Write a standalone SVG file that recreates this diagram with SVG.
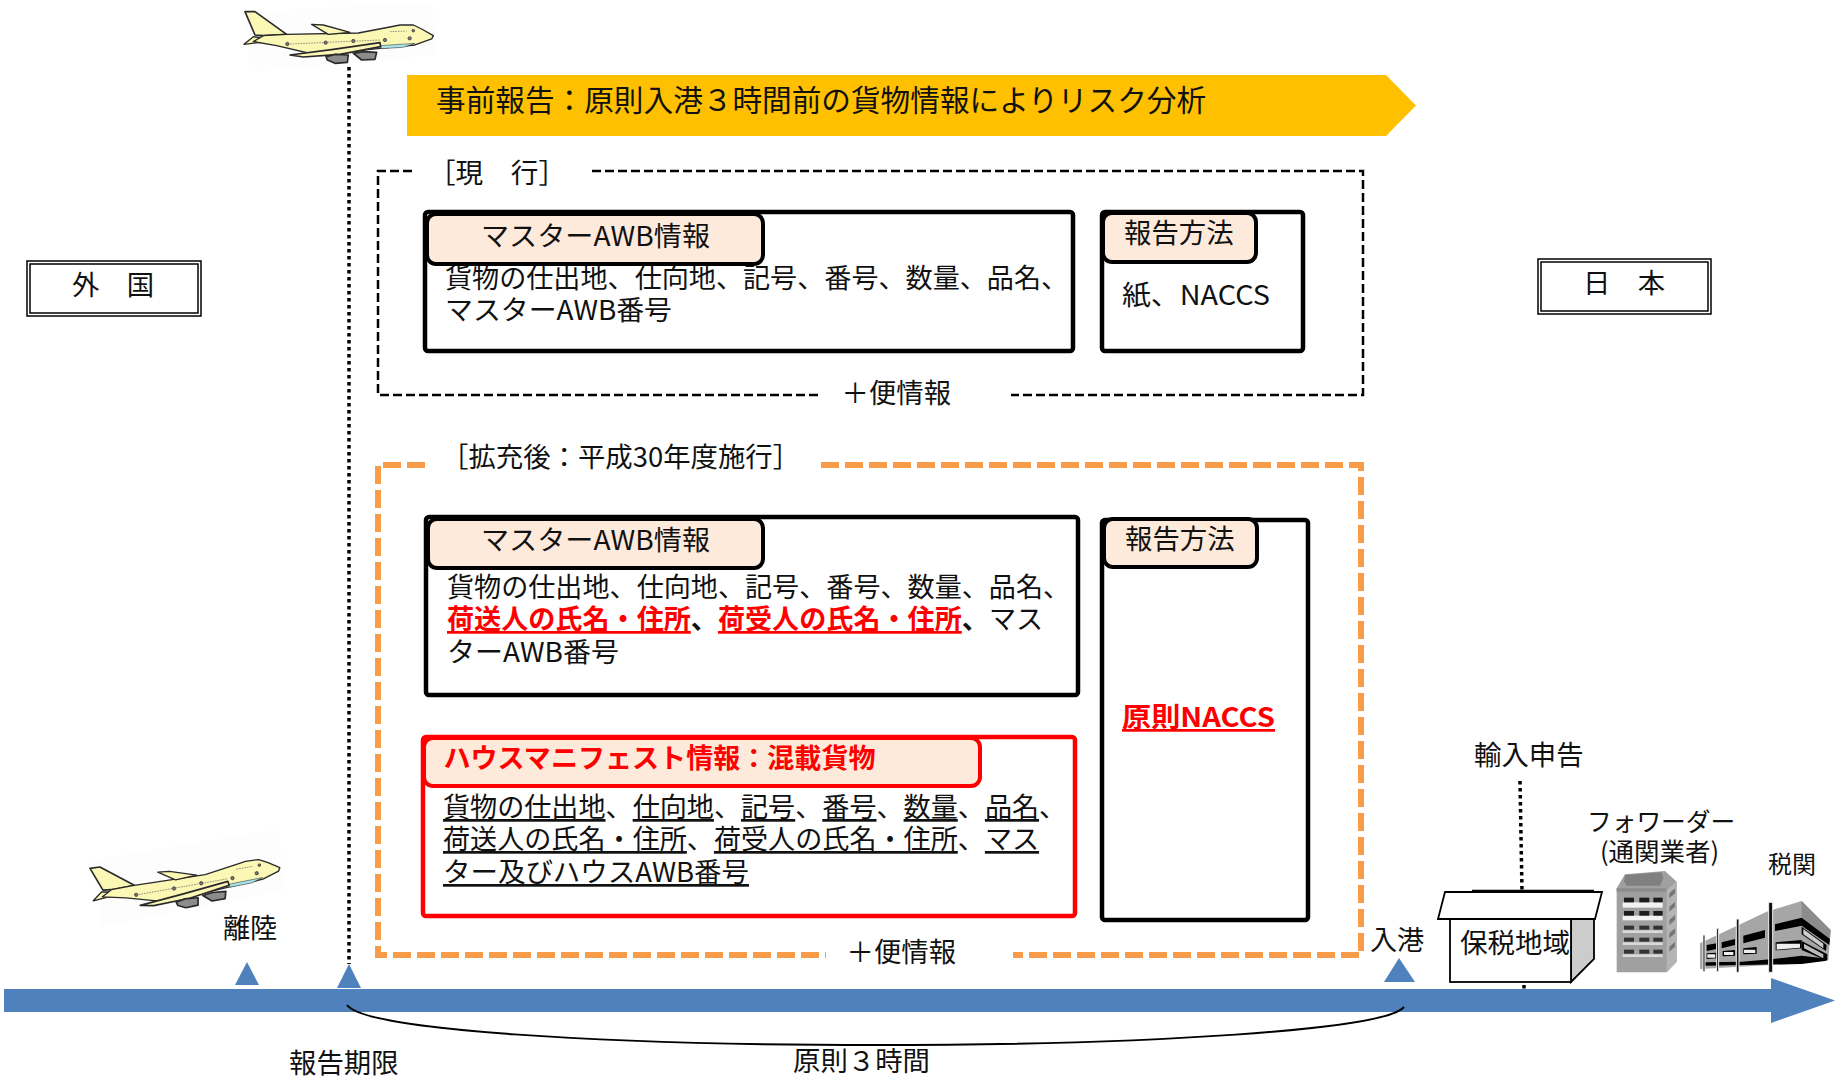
<svg xmlns="http://www.w3.org/2000/svg" width="1835" height="1081" viewBox="0 0 1835 1081">
<style>
text{font-family:"Noto Sans CJK JP","Noto Sans",sans-serif;fill:#111;font-size:27.1px}
.l{font-size:27.4px}
.red{fill:#f00;font-weight:700}
.u{text-decoration:underline}
.box{fill:#fff;stroke:#000;stroke-width:4.5}
.tab{fill:#fdeada;stroke:#000;stroke-width:4}
.rb{stroke:#f00}
.dash{fill:none;stroke:#000;stroke-width:2.5;stroke-dasharray:9 4}
.org{fill:none;stroke:#f89c4a;stroke-width:6;stroke-dasharray:18 6}
.tri{fill:#4f81bd}
.dot{fill:none;stroke:#000;stroke-width:3.5;stroke-dasharray:3.5 3.5}
.dbl{fill:#fff;stroke:#000;stroke-width:1.5}
.y{fill:#fbf7b4}
.bg{fill:#fdfdfd}
.e{fill:#8c8c8c;stroke-width:5}
.p{fill:#111;stroke:#eee;stroke-width:3}
</style>
<defs>
<g id="plane" stroke="#2a2a2a" stroke-linejoin="round">
<path class="y" d="M15 20L45 20L140 88L70 92L45 90Z" stroke-width="5"/>
<path class="y" d="M12 118L115 105L40 95Z" stroke-width="4"/>
<path class="y" d="M580 92L545 72L520 60L480 60L450 66L355 84L140 88L70 92L40 110L110 122L230 150L420 130L525 120L575 102Z" stroke-width="4"/>
<path class="y" d="M215 58L250 60L330 82L265 88Z" stroke-width="4"/>
<path d="M420 122L525 115L490 127L425 131Z" fill="#a9e3ea" stroke-width="1.500"/>
<path class="y" d="M150 150L280 133L420 113L422 125L300 148L190 156Z" stroke-width="5"/>
<path class="e" d="M258 155L285 148L325 150L322 172L285 175L262 165Z"/>
<path class="e" d="M340 145L370 140L410 142L405 163L365 165Z"/>
<g fill="#777" stroke-width="2"><circle cx="142" cy="117" r="5"/><circle cx="257" cy="113" r="5"/><circle cx="340" cy="108" r="5"/><circle cx="435" cy="105" r="5"/><circle cx="509" cy="100" r="5"/><circle cx="520" cy="77" r="4"/></g>
<path d="M150 117L420 105M450 80L500 78" fill="none" stroke="#666" stroke-width="2" stroke-dasharray="5 3"/>
</g>
</defs>

<g id="timeline">
<path fill="#4f81bd" d="M4 989H1771V978L1835 1000.500L1771 1023V1012H4Z"/>
</g>
<g id="connectors">
<path class="dot" d="M349 67V964"/>
<path class="dot" d="M1520 781L1522 892"/>
<path class="dot" d="M1524 985V989"/>
<path d="M347 1005C365 1030 600 1045 875 1045C1150 1045 1385 1030 1404 1007" fill="none" stroke="#000" stroke-width="2"/>
</g>
<g id="tri-ririku"><path class="tri" d="M247 962L259 985H235Z"/></g>
<g id="tri-kigen"><path class="tri" d="M349 964L361 988H337Z"/></g>
<g id="tri-nyuko"><path class="tri" d="M1399 958L1415 982H1384Z"/></g>

<g id="plane-top"><path class="bg" d="M245 12L432 2L436 55L250 72Z"/><g transform="translate(240 5) scale(.3333)"><use href="#plane"/></g></g>
<g id="plane-bottom"><path class="bg" d="M92 860L278 829L285 890L100 927Z"/><g transform="translate(63.7 860) rotate(-7.500) scale(.3333) translate(60 15)"><use href="#plane"/></g></g>

<g id="banner">
<path fill="#ffc000" d="M407 75H1386L1416 105.500L1386 136H407Z"/>
<text x="436" y="111" style="font-size:29.650px">事前報告：原則入港３時間前の貨物情報によりリスク分析</text>
</g>

<g id="foreign">
<rect class="dbl" x="27" y="261" width="174" height="55"/><rect class="dbl" x="30" y="264" width="168" height="49"/>
<text class="l" x="72" y="295">外　国</text>
</g>
<g id="japan">
<rect class="dbl" x="1538" y="259" width="173" height="55"/><rect class="dbl" x="1541" y="262" width="167" height="49"/>
<text class="l" x="1583" y="293">日　本</text>
</g>

<g id="current-frame">
<path class="dash" d="M412 171H378V395H822"/>
<path class="dash" d="M592 171H1363V395H1011"/>
<text x="428" y="183" style="font-size:27.600px">［現　行］</text>
<text class="l" x="841.500" y="403">＋便情報</text>
</g>

<g id="current-master">
<rect class="box" x="425" y="212" width="648" height="139" rx="3"/>
<text x="445" y="288">貨物の仕出地、仕向地、記号、番号、数量、品名、</text>
<text x="445" y="320" textLength="227" lengthAdjust="spacingAndGlyphs">マスターAWB番号</text>
<rect class="tab" x="427" y="214" width="336" height="50" rx="9"/>
<text x="481" y="246" textLength="229" lengthAdjust="spacingAndGlyphs">マスターAWB情報</text>
</g>
<g id="current-method">
<rect class="box" x="1102" y="212" width="201" height="139" rx="3"/>
<rect class="tab" x="1103" y="213" width="153" height="49" rx="9"/>
<text class="l" x="1124" y="243">報告方法</text>
<text x="1122" y="305" textLength="148" lengthAdjust="spacingAndGlyphs">紙、NACCS</text>
</g>

<g id="new-frame">
<path class="org" d="M425 465H378V955H826"/>
<path class="org" d="M821 465H1361V955H1013"/>
<text class="l" x="441" y="467">［拡充後：平成30年度施行］</text>
<text class="l" x="846.500" y="962">＋便情報</text>
</g>

<g id="new-master">
<rect class="box" x="426" y="517" width="652" height="178" rx="3"/>
<rect class="tab" x="428" y="519" width="335" height="49" rx="9"/>
<text x="481" y="550" textLength="229" lengthAdjust="spacingAndGlyphs">マスターAWB情報</text>
<text x="447" y="597">貨物の仕出地、仕向地、記号、番号、数量、品名、</text>
<text x="447" y="629"><tspan class="red u">荷送人の氏名・住所</tspan><tspan style="font-weight:700">、</tspan><tspan class="red u">荷受人の氏名・住所</tspan><tspan style="font-weight:700">、</tspan>マス</text>
<text x="447" y="662" textLength="172" lengthAdjust="spacingAndGlyphs">ターAWB番号</text>
</g>

<g id="house-manifest">
<rect class="box rb" x="423" y="737" width="652" height="179" rx="3"/>
<rect class="tab rb" x="424" y="738" width="556" height="48" rx="9"/>
<text class="red" x="443.500" y="768" textLength="432" lengthAdjust="spacingAndGlyphs">ハウスマニフェスト情報：混載貨物</text>
<text x="443" y="817"><tspan class="u">貨物の仕出地</tspan>、<tspan class="u">仕向地</tspan>、<tspan class="u">記号</tspan>、<tspan class="u">番号</tspan>、<tspan class="u">数量</tspan>、<tspan class="u">品名</tspan>、</text>
<text x="443" y="849"><tspan class="u">荷送人の氏名・住所</tspan>、<tspan class="u">荷受人の氏名・住所</tspan>、<tspan class="u">マス</tspan></text>
<text class="u" x="443" y="882" textLength="306" lengthAdjust="spacingAndGlyphs">ター及びハウスAWB番号</text>
</g>

<g id="new-method">
<rect class="box" x="1102" y="520" width="206" height="400" rx="3"/>
<rect class="tab" x="1104" y="519" width="153" height="48" rx="9"/>
<text class="l" x="1125" y="549">報告方法</text>
<text class="red u" x="1122" y="727" textLength="153" lengthAdjust="spacingAndGlyphs">原則NACCS</text>
</g>

<g id="labels">
<text x="223" y="938">離陸</text>
<text class="l" x="289" y="1073">報告期限</text>
<text class="l" x="793" y="1071">原則３時間</text>
<text x="1370" y="950">入港</text>
<text class="l" x="1474" y="765">輸入申告</text>
<text x="1587" y="831" style="font-size:24.700px">フォワーダー</text>
<text x="1600" y="861" style="font-size:25.500px">(通関業者)</text>
<text x="1768" y="873" style="font-size:24px">税関</text>
</g>

<g id="bonded-area">
<path d="M1472 890.500H1594" stroke="#000" stroke-width="1.500" fill="none"/>
<path d="M1571 919H1594V959L1571 982Z" fill="#ccc" stroke="#000" stroke-width="1.800"/>
<rect x="1450" y="919" width="121" height="63" fill="#fff" stroke="#000" stroke-width="1.800"/>
<path d="M1445 892H1602L1595 919H1438Z" fill="#fff" stroke="#000" stroke-width="1.800"/>
<text x="1460" y="953" style="font-size:27.500px">保税地域</text>
</g>

<g id="forwarder" transform="translate(1610 865) scale(.3333)">
<path d="M20 70L45 28L165 18L200 50V290L170 322H20Z" fill="#a0a0a0"/>
<path d="M170 75L200 50V290L170 322Z" fill="#b4b4b4"/>
<path d="M45 30L155 22L160 40L150 62H50L42 50Z" fill="#808080"/>
<path d="M20 70H170V80H20Z" fill="#8c8c8c"/>
<g fill="#f2f2f2"><rect x="38" y="112" width="120" height="16"/><rect x="38" y="152" width="120" height="14"/><rect x="38" y="196" width="120" height="8" opacity=".7"/><rect x="38" y="232" width="120" height="8" opacity=".7"/><rect x="38" y="268" width="120" height="8" opacity=".7"/></g>
<g fill="#1c1c1c"><rect x="42" y="98" width="30" height="14"/><rect x="88" y="98" width="30" height="14"/><rect x="130" y="98" width="28" height="14"/><rect x="42" y="138" width="30" height="14"/><rect x="88" y="138" width="30" height="14"/><rect x="130" y="138" width="28" height="14"/></g>
<g fill="#333"><rect x="42" y="182" width="30" height="12"/><rect x="88" y="182" width="30" height="12"/><rect x="130" y="182" width="28" height="12"/><rect x="42" y="218" width="30" height="12"/><rect x="88" y="218" width="30" height="12"/><rect x="130" y="218" width="28" height="12"/><rect x="42" y="254" width="30" height="12"/><rect x="88" y="254" width="30" height="12"/><rect x="130" y="254" width="28" height="12"/></g>
<path d="M178 85L195 70V85L178 100ZM178 125L195 110V125L178 140ZM178 165L195 150V165L178 180ZM178 205L195 190V205L178 220ZM178 245L195 230V245L178 260Z" fill="#777"/>
</g>

<g id="customs" transform="translate(1610 865) scale(.3333)">
<path d="M270 235L470 140L575 108L662 195L655 285L575 295L270 312Z" fill="#a6a6a6"/>
<path d="M575 108L662 195L660 222L575 158Z" fill="#8c8c8c"/>
<path d="M495 178L575 158L660 222L658 240L575 182L495 198ZM400 212L465 195V218L400 235ZM335 232L375 222V240L335 250ZM290 240L320 235V252L290 258Z" fill="#000"/>
<path d="M497 232L575 225V250L497 256ZM400 250L440 246V266L400 268ZM338 258L375 255V272L338 274ZM290 265L320 263V280L290 282Z" fill="#000"/>
<path d="M500 236H570V248L500 254ZM402 254H436V264H402ZM342 261H370V270H342ZM292 268H316V278H292Z" fill="#eee"/>
<path d="M575 185L650 240L648 258L575 208Z" fill="#000"/>
<path d="M580 192L640 236V250L580 208Z" fill="#ccc"/>
<path d="M575 228L652 268V287L575 255Z" fill="#000"/>
<path d="M582 236L640 268V280L582 250Z" fill="#bbb"/>
<path d="M285 292L395 290L490 282L575 272L640 280L650 287L575 297L285 302Z" fill="#000"/>
<path class="p" d="M279 210H285V320H279ZM320 190H326V320H320ZM379 162H387V322H379ZM476 112H488V322H476Z"/>
</g>
</svg>
